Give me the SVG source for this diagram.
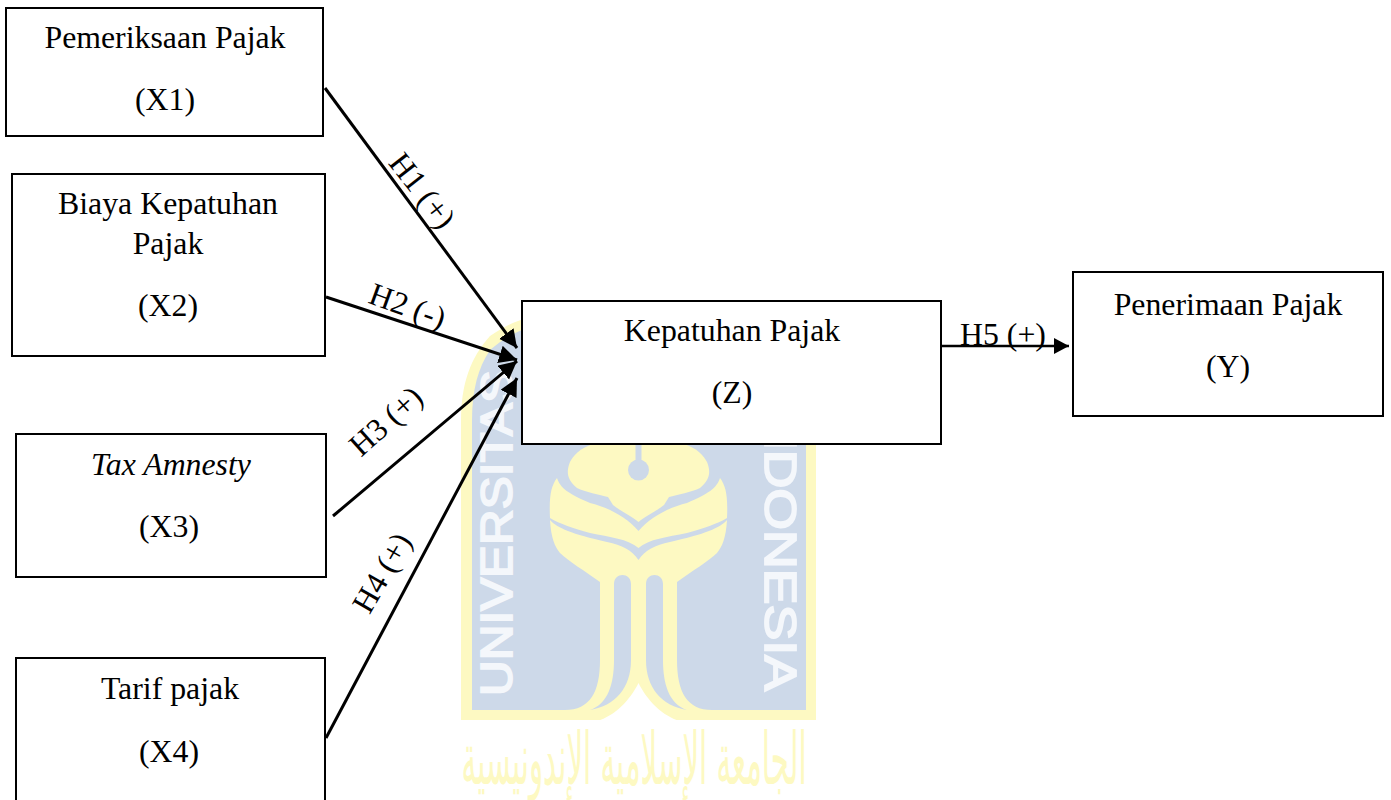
<svg xmlns="http://www.w3.org/2000/svg" width="1391" height="800" viewBox="0 0 1391 800">
<style>
.b{fill:#fff;stroke:#000;stroke-width:2}
.t{font-family:"Liberation Serif","Times New Roman",serif;font-size:31.800px;fill:#000;text-anchor:middle}
.c{fill:none;stroke:#000;stroke-width:3;marker-end:url(#a)}
.d{fill:none;stroke:#000;stroke-width:2.600;marker-end:url(#s)}
.w{font-family:"Liberation Sans",Arial,sans-serif;font-size:45px;fill:#f4f7fb;stroke:#f4f7fb;stroke-width:1.800}
.y{fill:#fdf9c2}.l{fill:#cdd9e9}
</style>
<defs>
<marker id="a" markerUnits="userSpaceOnUse" markerWidth="20" markerHeight="20" refX="18" refY="9" orient="auto"><path d="M0 0L18 9L0 18Z" fill="#000"/></marker>
<marker id="s" markerUnits="userSpaceOnUse" markerWidth="18" markerHeight="18" refX="15" refY="8" orient="auto"><path d="M0 0L15 8L0 16Z" fill="#000"/></marker>
</defs>
<rect width="1391" height="800" fill="#fff"/>
<g id="watermark">
<path class="y" d="M461 720V420C461 385 470 358 490 336C502 328 512 322 530 317L800 317L816 420V720Z"/>
<path class="l" d="M472 710V420C472 390 478 368 490 350C502 340 512 333 530 327L790 327L806 420V710Z"/>
<path class="y" d="M593 444C580 448 573 456 570 462C566 472 567 480 577 488C585 492 600 495 608 497L613 505C620 511 632 516 638.500 522C645 516 657 511 664 505L669 497C677 495 692 492 700 488C710 480 711 472 707 462C704 456 697 448 684 444Z"/>
<rect class="l" x="635.500" y="444" width="6" height="22"/><circle class="l" cx="638.500" cy="470" r="10.500"/>
<path class="y" d="M557 478C551 486 549 496 550 518C560 524 573 528 590 533C610 537 628 539 638.500 548C649 539 667 537 687 533C704 528 717 524 727 518C728 496 726 486 720 478C717 488 708 494 687 503C670 507 650 517 638.500 531C627 517 607 507 590 503C569 494 560 488 557 478Z"/>
<path class="y" d="M550 520C551 538 555 547 560 553C568 561 585 571 600 582V660C600 692 590 710 565 710V720H712V710C687 710 677 692 677 660V582C692 571 709 561 717 553C722 547 726 538 727 520C720 528 705 534 670 542C655 545 645 550 638.500 560C632 550 622 545 607 542C572 534 557 528 550 520Z"/>
<path class="l" d="M614 584C614 572 631 572 631 584V660C631 688 615 706 590 710C608 704 614 684 614 660ZM646 584C646 572 663 572 663 584V660C663 684 669 704 687 710C662 706 646 688 646 660Z"/>
<path d="M638.500 683C630 700 615 716 597 721H680C662 716 647 700 638.500 683Z" fill="#fff"/>
<text class="w" transform="translate(512 696) rotate(-90)" textLength="326" lengthAdjust="spacingAndGlyphs">UNIVERSITAS</text>
<text class="w" transform="translate(765 396) rotate(90)" textLength="295" lengthAdjust="spacingAndGlyphs">INDONESIA</text>
<text transform="translate(634 784) scale(1 1.250)" font-family="'DejaVu Sans',sans-serif" font-size="58" fill="#fdf9c2" text-anchor="middle" direction="rtl" textLength="345" lengthAdjust="spacingAndGlyphs">الجامعة الإسلامية الإندونيسية</text>
</g>
<g id="connectors">
<path class="c" d="M325 88L517 348"/>
<path class="c" d="M326 297L517 360"/>
<path class="c" d="M333 516L517 361"/>
<path class="c" d="M326 738L517 378"/>
<path class="d" d="M941 346L1069 346"/>
</g>
<g id="x1"><rect class="b" x="6" y="8" width="317" height="128"/><text class="t" x="165" y="48">Pemeriksaan Pajak</text><text class="t" x="165" y="110">(X1)</text></g>
<g id="x2"><rect class="b" x="12" y="174" width="313" height="182"/><text class="t" x="168" y="214">Biaya Kepatuhan</text><text class="t" x="168" y="254">Pajak</text><text class="t" x="168" y="316">(X2)</text></g>
<g id="x3"><rect class="b" x="16" y="434" width="310" height="143"/><text class="t" x="171" y="475" font-style="italic">Tax Amnesty</text><text class="t" x="169" y="537">(X3)</text></g>
<g id="x4"><rect class="b" x="16" y="658" width="309" height="150"/><text class="t" x="170" y="699">Tarif pajak</text><text class="t" x="169" y="762">(X4)</text></g>
<g id="z"><rect class="b" x="522" y="301" width="419" height="143"/><text class="t" x="732" y="341">Kepatuhan Pajak</text><text class="t" x="732" y="403">(Z)</text></g>
<g id="y"><rect class="b" x="1073" y="272" width="310" height="144"/><text class="t" x="1228" y="315">Penerimaan Pajak</text><text class="t" x="1228" y="377">(Y)</text></g>
<g id="labels">
<text class="t" transform="translate(414 197) rotate(52)">H1 (+)</text>
<text class="t" transform="translate(404 316) rotate(20)">H2 (-)</text>
<text class="t" transform="translate(393 429) rotate(-42)">H3 (+)</text>
<text class="t" transform="translate(391 578) rotate(-60)">H4 (+)</text>
<text class="t" x="1003" y="345">H5 (+)</text>
</g>
</svg>
